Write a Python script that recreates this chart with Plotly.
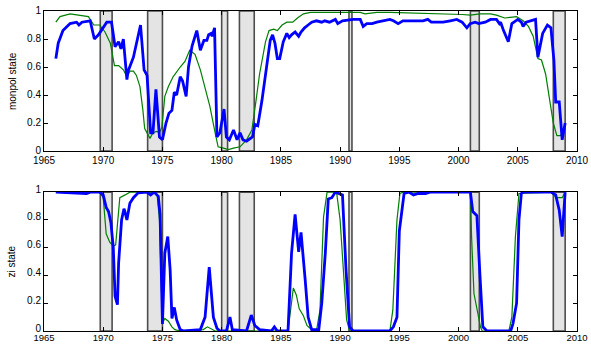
import plotly.graph_objects as go

# Recession periods (start, end)
rec_start = [1969.75, 1973.75, 1980.0, 1981.5, 1990.75, 2001.0, 2008.0]
rec_end = [1970.75, 1975.0, 1980.5, 1982.75, 1991.0, 2001.75, 2009.0]

# Top panel: monpol state, blue (thick) series
mp_blue_x = [1966.0, 1966.2, 1966.6, 1967.2, 1967.75, 1967.95, 1968.2, 1968.9, 1969.25, 1969.6,
             1970.3, 1970.7, 1971.0, 1971.3, 1971.5, 1971.7, 1972.0, 1972.1, 1972.55, 1972.8,
             1973.15, 1973.45, 1973.7, 1974.0, 1974.2, 1974.45, 1974.75, 1975.0, 1975.3, 1975.55,
             1975.8, 1976.0, 1976.2, 1976.5, 1976.7, 1977.0, 1977.2, 1977.5, 1977.7, 1977.9,
             1978.2, 1978.5, 1978.75, 1978.9, 1979.1, 1979.2, 1979.4, 1979.6, 1979.85, 1980.2,
             1980.4, 1980.65, 1981.0, 1981.3, 1981.55, 1981.8, 1982.1, 1982.4, 1982.6, 1982.8,
             1983.05, 1983.4, 1983.8, 1984.1, 1984.3, 1984.5, 1984.7, 1984.9, 1985.2, 1985.5,
             1985.7, 1985.9, 1986.2, 1986.5, 1986.7, 1987.0, 1987.3, 1987.6, 1988.0, 1988.45,
             1988.7, 1989.1, 1989.6, 1989.8, 1990.2, 1991.1, 1991.7, 1991.95, 1992.25, 1992.7,
             1993.1, 1993.7, 1994.2, 1994.5, 1994.9, 1995.3, 1995.9, 1997.0, 1997.4, 1997.7,
             1998.0, 1998.7, 1999.3, 1999.85, 2000.3, 2000.7, 2000.98, 2001.4, 2001.7, 2002.25,
             2002.7, 2003.2, 2003.45, 2003.55, 2003.8, 2004.2, 2004.5, 2005.0, 2005.3, 2005.45,
             2005.7, 2006.15, 2006.5, 2006.7, 2007.1, 2007.5, 2007.8, 2008.05, 2008.2, 2008.5,
             2008.75, 2009.0]
mp_blue_y = [0.66, 0.77, 0.86, 0.91, 0.92, 0.90, 0.92, 0.93, 0.80, 0.83,
             0.92, 0.92, 0.745, 0.78, 0.73, 0.80, 0.51, 0.57, 0.67, 0.76,
             0.90, 0.58, 0.54, 0.13, 0.13, 0.44, 0.10, 0.08, 0.20, 0.27,
             0.29, 0.42, 0.40, 0.53, 0.50, 0.39, 0.60, 0.75, 0.80, 0.86,
             0.72, 0.79, 0.79, 0.83, 0.84, 0.82, 0.88, 0.10, 0.13, 0.30,
             0.10, 0.08, 0.15, 0.08, 0.13, 0.08, 0.07, 0.09, 0.10, 0.19,
             0.18, 0.36, 0.63, 0.79, 0.83, 0.77, 0.66, 0.66, 0.78, 0.84,
             0.81, 0.83, 0.85, 0.82, 0.85, 0.88, 0.90, 0.92, 0.93, 0.92,
             0.93, 0.92, 0.94, 0.91, 0.93, 0.94, 0.94, 0.89, 0.91, 0.91,
             0.92, 0.93, 0.94, 0.93, 0.91, 0.93, 0.93, 0.93, 0.94, 0.92,
             0.92, 0.92, 0.93, 0.94, 0.92, 0.88, 0.91, 0.92, 0.91, 0.92,
             0.94, 0.94, 0.91, 0.92, 0.86, 0.78, 0.91, 0.94, 0.92, 0.89,
             0.92, 0.93, 0.94, 0.67, 0.84, 0.90, 0.88, 0.65, 0.35, 0.35,
             0.08, 0.20]

# Top panel: green (thin) series
mp_green_x = [1966.0, 1966.35, 1967.2, 1968.0, 1968.75, 1969.2, 1969.7, 1970.15, 1970.6, 1970.95,
              1971.3, 1971.7, 1972.0, 1972.25, 1972.55, 1972.8, 1973.1, 1973.35, 1973.5, 1973.95,
              1974.2, 1974.5, 1974.75, 1974.95, 1975.2, 1975.5, 1975.9, 1976.5, 1976.9, 1977.3,
              1977.75, 1978.2, 1978.6, 1979.0, 1979.45, 1979.7, 1980.15, 1980.57, 1981.0, 1981.55,
              1982.1, 1982.55, 1982.9, 1983.2, 1983.7, 1984.0, 1984.4, 1984.7, 1985.1, 1985.5,
              1986.0, 1986.4, 1986.9, 1987.5, 1988.6, 1990.0, 1990.9, 1991.7, 1992.1, 1993.1,
              1994.2, 1999.85, 2000.3, 2001.0, 2001.8, 2002.7, 2003.2, 2003.9, 2004.35, 2004.9,
              2005.45, 2005.9, 2006.3, 2006.7, 2007.0, 2007.35, 2007.7, 2008.0, 2008.3, 2008.6,
              2008.85, 2009.0]
mp_green_y = [0.92, 0.96, 0.98, 0.97, 0.96, 0.90, 0.90, 0.85, 0.77, 0.61,
              0.61, 0.58, 0.53, 0.57, 0.57, 0.54, 0.46, 0.29, 0.16, 0.09,
              0.13, 0.14, 0.13, 0.17, 0.39, 0.46, 0.53, 0.60, 0.64, 0.72,
              0.69, 0.58, 0.46, 0.32, 0.13, 0.03, 0.02, 0.01, 0.02, 0.03,
              0.08, 0.15, 0.36, 0.55, 0.78, 0.86, 0.87, 0.86, 0.90, 0.92,
              0.92, 0.95, 0.98, 0.99, 0.99, 0.99, 0.99, 0.99, 0.98, 0.99,
              0.99, 0.98, 0.975, 0.97, 0.98, 0.98, 0.97, 0.95, 0.955, 0.96,
              0.93, 0.89, 0.82, 0.66, 0.65, 0.55, 0.36, 0.20, 0.11, 0.11,
              0.14, 0.19]

# Bottom panel: zi state, blue series
zi_blue_x = [1966.0, 1968.6, 1968.9, 1969.7, 1970.0, 1970.25, 1970.45, 1970.65, 1970.85, 1971.0,
             1971.2, 1971.3, 1971.55, 1971.75, 1971.8, 1972.0, 1972.25, 1972.55, 1972.95, 1973.7,
             1974.0, 1974.3, 1974.65, 1974.8, 1975.0, 1975.2, 1975.45, 1975.65, 1975.8, 1976.0,
             1976.2, 1976.5, 1976.8, 1978.2, 1978.6, 1978.95, 1979.3, 1979.6, 1979.85, 1980.4,
             1980.7, 1980.9, 1982.1, 1982.5, 1982.8, 1983.2, 1984.2, 1984.45, 1984.7, 1985.6,
             1985.9, 1986.2, 1986.5, 1986.7, 1987.05, 1987.3, 1987.6, 1988.2, 1988.45, 1988.75,
             1989.0, 1989.3, 1989.6, 1989.9, 1990.2, 1990.5, 1990.8, 1991.1, 1994.2, 1994.5,
             1994.8, 1995.0, 1995.2, 1995.4, 1995.8, 1996.2, 1996.6, 1996.9, 1997.2, 1997.6,
             2001.0, 2001.2, 2001.4, 2001.55, 2001.8, 2002.05, 2002.4, 2004.4, 2004.6, 2004.9,
             2005.1, 2005.3, 2005.5, 2007.8, 2008.2, 2008.5, 2008.75, 2008.9, 2009.0]
zi_blue_y = [1.0, 0.99, 1.0, 1.0, 0.98, 0.89, 0.86, 0.78, 0.60, 0.25,
             0.19, 0.49, 0.80, 0.88, 0.87, 0.80, 0.92, 0.96, 0.995, 1.0,
             0.98, 1.0, 0.97, 0.84, 0.05, 0.56, 0.68, 0.44, 0.09, 0.17,
             0.08, 0.01, 0.0, 0.01, 0.10, 0.46, 0.10, 0.02, 0.0, 0.0,
             0.10, 0.01, 0.0, 0.115, 0.04, 0.01, 0.0, 0.03, 0.0, 0.0,
             0.56, 0.84, 0.57, 0.71, 0.37, 0.10, 0.01, 0.01, 0.20, 0.56,
             0.95, 0.96, 1.0, 0.99, 0.98, 0.44, 0.03, 0.0, 0.0, 0.03,
             0.10, 0.72, 0.87, 0.99, 1.0, 0.98, 0.99, 0.99, 0.99, 1.0,
             1.0, 0.86, 0.84, 0.83, 0.41, 0.03, 0.0, 0.0, 0.055, 0.20,
             0.80, 0.99, 1.0, 1.0, 0.98, 0.87, 0.68, 0.84, 1.0]

# Bottom panel: green series
zi_green_x = [1966.0, 1969.7, 1970.0, 1970.25, 1970.55, 1970.85, 1971.05, 1971.2, 1971.4, 1971.85,
              1972.25, 1974.2, 1974.55, 1974.75, 1974.9, 1975.0, 1975.2, 1975.5, 1975.8, 1976.05,
              1976.5, 1978.45, 1978.8, 1979.0, 1979.45, 1985.6, 1985.85, 1986.05, 1986.3, 1986.55,
              1986.9, 1987.2, 1987.6, 1988.0, 1988.3, 1988.6, 1988.9, 1989.7, 1990.0, 1990.3,
              1990.55, 1990.8, 1994.2, 1994.45, 1994.8, 1995.05, 1995.3, 2001.0, 2001.1, 2001.3,
              2001.55, 2001.85, 2002.0, 2004.25, 2004.5, 2004.8, 2005.1, 2007.8, 2008.0, 2008.3,
              2008.75, 2009.0]
zi_green_y = [1.0, 1.0, 0.96, 0.70, 0.64, 0.61, 0.62, 0.75, 0.96, 0.98,
              1.0, 1.0, 0.98, 0.80, 0.44, 0.055, 0.09, 0.07, 0.03, 0.01,
              0.0, 0.01, 0.03, 0.02, 0.0, 0.0, 0.20, 0.31, 0.26, 0.16,
              0.11, 0.04, 0.01, 0.0, 0.15, 0.82, 1.0, 1.0, 0.80, 0.44,
              0.08, 0.0, 0.0, 0.15, 0.80, 0.99, 1.0, 1.0, 0.68, 0.27,
              0.15, 0.03, 0.0, 0.0, 0.10, 0.68, 0.99, 1.0, 0.98, 0.96,
              0.96, 1.0]

x_ticks = [1965, 1970, 1975, 1980, 1985, 1990, 1995, 2000, 2005, 2010]
y_ticks = [0, 0.2, 0.4, 0.6, 0.8, 1]
y_titles = ["monpol state", "zi state"]

BLUE = "#0000ff"
GREEN = "#007f00"
FONT = "Liberation Sans, Arial, Helvetica, sans-serif"

fig = go.Figure()
fig.add_trace(go.Scatter(x=mp_green_x, y=mp_green_y, mode="lines", line=dict(color=GREEN, width=1.2),
                         xaxis="x", yaxis="y", showlegend=False))
fig.add_trace(go.Scatter(x=mp_blue_x, y=mp_blue_y, mode="lines", line=dict(color=BLUE, width=2.8),
                         xaxis="x", yaxis="y", showlegend=False))
fig.add_trace(go.Scatter(x=zi_green_x, y=zi_green_y, mode="lines", line=dict(color=GREEN, width=1.2),
                         xaxis="x2", yaxis="y2", showlegend=False))
fig.add_trace(go.Scatter(x=zi_blue_x, y=zi_blue_y, mode="lines", line=dict(color=BLUE, width=2.8),
                         xaxis="x2", yaxis="y2", showlegend=False))

shapes = []
for xr, yr in (("x", "y domain"), ("x2", "y2 domain")):
    for s, e in zip(rec_start, rec_end):
        shapes.append(dict(type="rect", xref=xr, yref=yr, x0=s, x1=e, y0=0, y1=1,
                           fillcolor="#e4e4e4", line=dict(color="#4d4d4d", width=1.6),
                           layer="below"))

axis_common = dict(showgrid=False, zeroline=False, showline=True, linecolor="black", linewidth=1,
                   mirror="ticks", ticks="inside", ticklen=4, tickcolor="black")
tfont = dict(family=FONT, size=10, color="black")
tfont_small = dict(family=FONT, size=9.5, color="black")

top_dom = [0.5625, 1.0]
bot_dom = [0.0, 0.434]

fig.update_layout(
    width=591, height=344,
    margin=dict(l=44, r=14, t=11, b=13, autoexpand=False),
    paper_bgcolor="white", plot_bgcolor="white",
    shapes=shapes,
    xaxis=dict(domain=[0, 1], anchor="y", range=[1965, 2010], tickvals=x_ticks,
               ticklabelstandoff=0, tickfont=tfont, **axis_common),
    yaxis=dict(domain=top_dom, anchor="x", range=[0, 1], tickvals=y_ticks,
               ticklabelshift=-1, tickfont=tfont, **axis_common),
    xaxis2=dict(domain=[0, 1], anchor="y2", range=[1965, 2010], tickvals=x_ticks,
                ticklabelstandoff=-2, tickfont=tfont_small, **axis_common),
    yaxis2=dict(domain=bot_dom, anchor="x2", range=[0, 1], tickvals=y_ticks,
                ticklabelshift=-3, tickfont=tfont, **axis_common),
    annotations=[
        dict(text=y_titles[0], xref="paper", yref="paper", x=-0.06, y=sum(top_dom) / 2,
             textangle=-90, showarrow=False, font=dict(family=FONT, size=10, color="black"),
             xanchor="center", yanchor="middle"),
        dict(text=y_titles[1], xref="paper", yref="paper", x=-0.06, y=sum(bot_dom) / 2,
             textangle=-90, showarrow=False, font=dict(family=FONT, size=10, color="black"),
             xanchor="center", yanchor="middle"),
    ],
)

fig.write_html("out.html")
